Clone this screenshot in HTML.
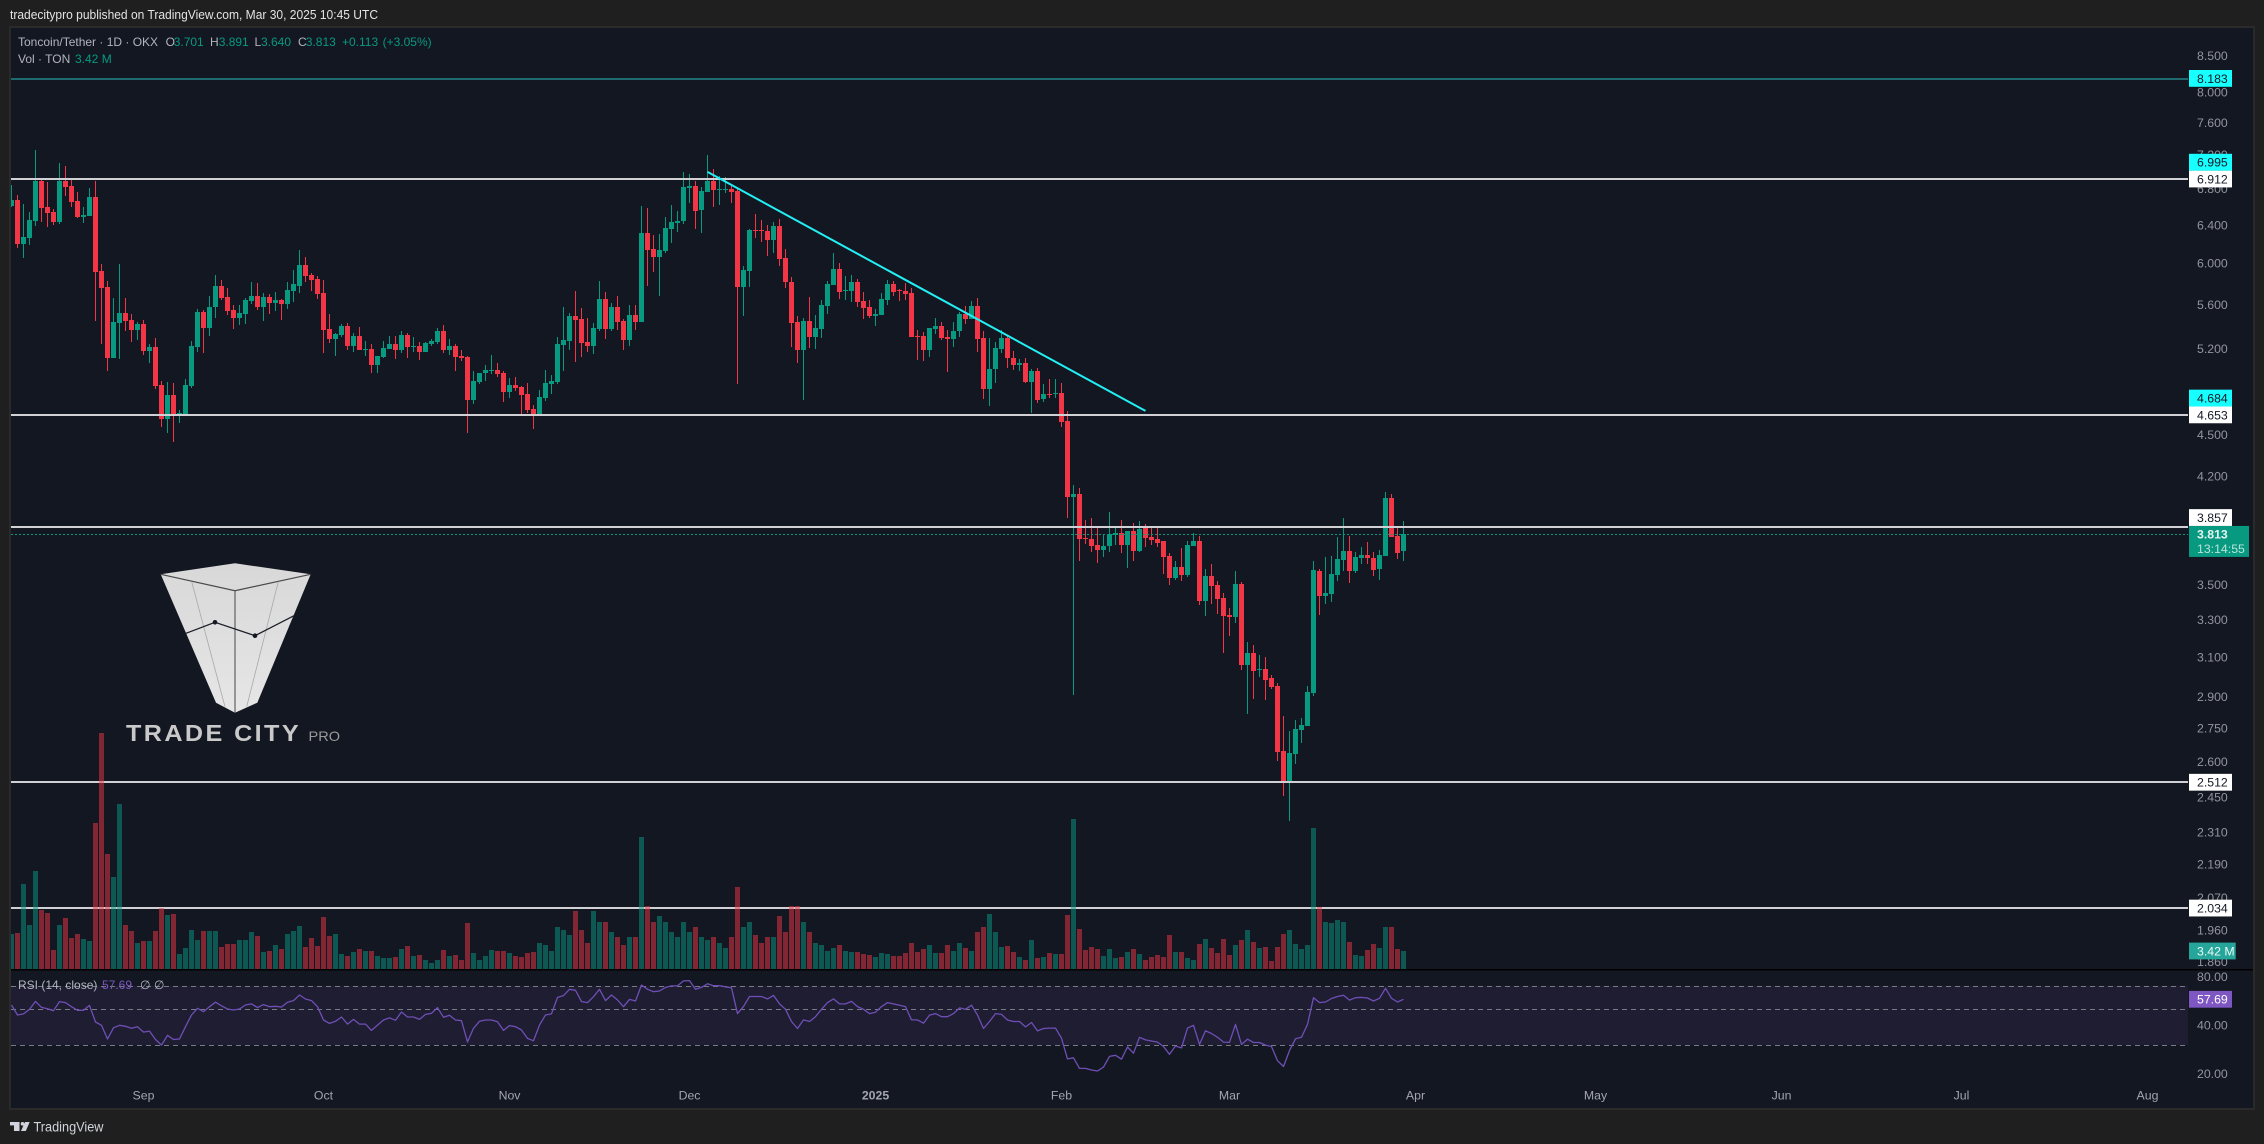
<!DOCTYPE html>
<html lang="en">
<head>
<meta charset="utf-8">
<title>Toncoin/Tether 1D chart</title>
<style>
html,body{margin:0;padding:0;background:#1f1f1f;width:2264px;height:1144px;overflow:hidden}
svg{display:block}
text{font-family:"Liberation Sans",sans-serif}
</style>
</head>
<body>
<svg id="root" xmlns="http://www.w3.org/2000/svg" width="2264" height="1144" viewBox="0 0 2264 1144">
  <defs>
    <clipPath id="paneClip"><rect x="11" y="28" width="2177" height="1080"/></clipPath>
    <linearGradient id="logoFill" x1="0" y1="0" x2="0" y2="1">
      <stop offset="0" stop-color="#d8d8d8"/><stop offset="1" stop-color="#e6e6e6"/>
    </linearGradient>
  </defs>
  <rect x="0" y="0" width="2264" height="1144" fill="#1f1f1f"/>
  <rect x="9" y="26" width="2246" height="1084" fill="#2a2a2a"/>
  <rect x="11" y="28" width="2242" height="1080" fill="#131722"/>

  <text x="10" y="19" font-size="12.5" fill="#e3e3e3" textLength="368" lengthAdjust="spacingAndGlyphs">tradecitypro published on TradingView.com, Mar 30, 2025 10:45 UTC</text>

  <g>
    <polygon points="160.7,574.3 235,563.3 310.7,574.3 257.3,702.7 235,712.7 216,702.7" fill="url(#logoFill)"/>
    <polyline points="160.7,574.3 235,590.7 310.7,574.3" fill="none" stroke="#4a4a4e" stroke-width="1.2"/>
    <line x1="235" y1="590.7" x2="235" y2="712.7" stroke="#55555a" stroke-width="1.1"/>
    <line x1="191.7" y1="581.7" x2="225" y2="706.7" stroke="#a8a8a8" stroke-width="0.8"/>
    <line x1="278.3" y1="581.7" x2="246.7" y2="706.7" stroke="#a8a8a8" stroke-width="0.8"/>
    <polyline points="186,633.3 215,622.3 255,635.7 294,615.7" fill="none" stroke="#1c2028" stroke-width="1.3"/>
    <circle cx="215" cy="622.3" r="2.3" fill="#131722"/>
    <circle cx="255" cy="635.7" r="2.3" fill="#131722"/>
    <text x="126" y="741" font-size="23" font-weight="bold" letter-spacing="2.2" fill="#c9c9c9" textLength="175" lengthAdjust="spacingAndGlyphs">TRADE CITY</text>
    <text x="308.5" y="741" font-size="14" fill="#9a9a9a" textLength="31.5" lengthAdjust="spacingAndGlyphs">PRO</text>
  </g>

  <g id="rsiPane"></g>
  <g id="candles" clip-path="url(#paneClip)"></g>
  <g id="levels" clip-path="url(#paneClip)"></g>
  <g id="volume" clip-path="url(#paneClip)"></g>
  <rect x="11" y="969" width="2242" height="1.5" fill="#000000"/>
  <g id="priceAxis"></g>
  <g id="timeAxis"></g>
  <g id="labels"></g>

  <g font-size="12">
    <text x="18" y="46" fill="#b2b5be">Toncoin/Tether · 1D · OKX</text>
    <text x="165.6" y="46" fill="#b2b5be">O</text>
    <text x="173.7" y="46" fill="#089981">3.701</text>
    <text x="210" y="46" fill="#b2b5be">H</text>
    <text x="218.7" y="46" fill="#089981">3.891</text>
    <text x="254.5" y="46" fill="#b2b5be">L</text>
    <text x="261" y="46" fill="#089981">3.640</text>
    <text x="298" y="46" fill="#b2b5be">C</text>
    <text x="305.8" y="46" fill="#089981">3.813</text>
    <text x="342" y="46" fill="#089981">+0.113</text>
    <text x="382.6" y="46" fill="#089981">(+3.05%)</text>
    <text x="18" y="63" fill="#b2b5be">Vol · TON</text>
    <text x="75" y="63" fill="#089981">3.42 M</text>
    <text x="18" y="989" fill="#b2b5be">RSI (14, close)</text>
    <text x="102" y="989" fill="#7e57c2">57.69</text>
    <text x="140" y="989" fill="#b2b5be">∅</text>
    <text x="154" y="989" fill="#b2b5be">∅</text>
  </g>

  <g fill="#d1d4dc">
    <rect x="10" y="1122" width="9.5" height="3.4"/>
    <rect x="14" y="1122" width="5.5" height="9"/>
    <circle cx="22.5" cy="1123.8" r="1.8"/>
    <polygon points="25,1122 29.7,1122 25.8,1131 21,1131"/>
    <text x="33.5" y="1131.5" font-size="13.5" textLength="70" lengthAdjust="spacingAndGlyphs">TradingView</text>
  </g>
</svg>

<script>
const opens = [
6.606,6.673,6.201,6.264,6.445,6.888,6.595,6.540,6.430,6.888,
6.831,6.662,6.485,6.496,6.707,5.923,5.766,5.119,5.429,5.520,
5.456,5.365,5.420,5.179,5.214,4.892,4.621,4.810,4.645,4.660,
4.884,5.214,5.529,5.383,5.576,5.776,5.670,5.548,5.474,5.511,
5.633,5.680,5.576,5.670,5.614,5.642,5.604,5.728,5.776,5.984,
5.884,5.845,5.708,5.374,5.285,5.320,5.401,5.223,5.311,5.188,
5.197,5.059,5.127,5.197,5.241,5.188,5.320,5.214,5.223,5.170,
5.241,5.258,5.356,5.188,5.223,5.136,5.127,4.770,4.917,4.992,
5.008,5.017,4.992,4.835,4.892,4.875,4.818,4.699,4.660,4.786,
4.900,4.917,5.232,5.267,5.492,5.465,5.258,5.223,5.374,5.652,
5.374,5.576,5.447,5.276,5.502,5.438,6.314,6.146,6.064,6.126,
6.355,6.419,6.441,6.809,6.831,6.562,6.763,6.888,6.786,6.786,
6.797,6.774,5.766,5.923,6.345,6.345,6.335,6.240,6.388,6.054,
5.815,5.438,5.188,5.447,5.302,5.374,5.585,5.786,5.943,5.728,
5.728,5.815,5.633,5.576,5.492,5.502,5.642,5.795,5.737,5.728,
5.708,5.311,5.311,5.188,5.374,5.401,5.302,5.285,5.356,5.511,
5.465,5.585,5.293,4.859,5.025,5.197,5.293,5.119,5.059,5.076,
4.917,5.008,4.778,4.818,4.818,4.826,4.606,4.054,4.075,3.785,
3.778,3.740,3.709,3.734,3.804,3.816,3.740,3.830,3.703,3.849,
3.791,3.778,3.766,3.671,3.539,3.605,3.557,3.734,3.766,3.405,
3.551,3.498,3.422,3.326,3.315,3.503,3.058,3.120,3.033,3.038,
2.992,2.952,2.647,2.517,2.634,2.742,2.760,2.917,3.581,3.434,
3.445,3.557,3.647,3.703,3.581,3.659,3.678,3.659,3.593,3.671,
4.048,3.797,3.701];
const highs = [
6.843,6.729,6.628,6.540,7.257,6.912,6.877,6.573,7.104,7.064,
6.923,6.763,6.595,6.809,6.888,5.994,5.825,5.661,5.994,5.661,
5.511,5.438,5.456,5.241,5.293,4.925,4.917,4.908,4.691,4.941,
5.267,5.557,5.548,5.680,5.884,5.835,5.756,5.595,5.595,5.661,
5.815,5.805,5.708,5.699,5.718,5.652,5.815,5.933,6.136,6.064,
5.904,5.874,5.835,5.511,5.338,5.420,5.429,5.338,5.392,5.267,
5.241,5.136,5.267,5.311,5.311,5.356,5.338,5.302,5.258,5.258,
5.285,5.383,5.410,5.285,5.241,5.188,5.136,5.008,4.992,5.059,
5.145,5.076,5.008,4.950,4.958,4.884,4.908,4.730,4.851,5.017,
4.975,5.302,5.576,5.520,5.728,5.567,5.474,5.429,5.825,5.718,
5.614,5.680,5.465,5.595,5.595,6.606,6.584,6.293,6.303,6.485,
6.617,6.551,6.993,6.970,6.888,6.820,7.196,7.029,6.947,6.935,
6.843,6.809,5.973,6.355,6.518,6.452,6.398,6.430,6.463,6.146,
5.864,5.492,5.474,5.670,5.502,5.642,5.825,6.105,6.004,5.874,
5.884,5.845,5.718,5.642,5.557,5.708,5.835,5.825,5.747,5.805,
5.756,5.365,5.347,5.383,5.474,5.438,5.365,5.438,5.529,5.585,
5.633,5.661,5.356,5.293,5.258,5.365,5.311,5.179,5.110,5.119,
5.025,5.034,4.900,4.941,4.941,4.908,4.683,4.136,4.116,3.900,
3.913,3.862,3.810,3.954,3.855,3.900,3.830,3.881,3.894,3.875,
3.849,3.855,3.766,3.691,3.641,3.722,3.766,3.816,3.797,3.593,
3.623,3.521,3.451,3.365,3.581,3.515,3.178,3.162,3.110,3.100,
3.008,2.967,2.807,2.737,2.788,2.798,2.952,3.641,3.593,3.665,
3.671,3.791,3.913,3.797,3.697,3.728,3.759,3.697,3.709,4.089,
4.075,3.855,3.891];
const lows = [
6.595,6.160,6.057,6.191,6.388,6.430,6.380,6.398,6.409,6.718,
6.595,6.474,6.419,6.496,5.447,5.241,5.008,5.119,5.110,5.356,
5.258,5.276,5.145,5.076,4.859,4.559,4.513,4.446,4.590,4.645,
4.867,5.170,5.162,5.311,5.474,5.642,5.502,5.374,5.410,5.420,
5.604,5.548,5.447,5.511,5.539,5.456,5.557,5.623,5.708,5.815,
5.728,5.652,5.162,5.249,5.136,5.302,5.188,5.170,5.188,5.136,
4.992,4.992,5.119,5.197,5.110,5.162,5.119,5.170,5.102,5.170,
5.223,5.241,5.162,5.145,5.008,5.093,4.513,4.738,4.900,4.925,
4.984,4.958,4.754,4.786,4.843,4.660,4.668,4.544,4.645,4.762,
4.818,4.900,5.008,5.188,5.085,5.127,5.170,5.153,5.356,5.285,
5.356,5.365,5.188,5.223,5.365,5.438,5.776,5.914,5.680,6.105,
6.209,6.324,6.409,6.640,6.355,6.314,6.763,6.595,6.617,6.752,
6.640,4.900,5.492,5.766,6.261,6.219,6.074,6.105,5.973,5.756,
5.214,5.076,4.770,5.205,5.197,5.293,5.511,5.786,5.652,5.642,
5.623,5.576,5.465,5.474,5.401,5.502,5.595,5.680,5.633,5.642,
5.302,5.102,5.093,5.127,5.329,5.276,5.000,5.214,5.302,5.420,
5.465,5.170,4.778,4.722,4.908,5.162,5.034,5.017,5.008,4.908,
4.668,4.746,4.754,4.786,4.786,4.559,3.913,2.908,3.641,3.747,
3.697,3.629,3.665,3.697,3.740,3.691,3.599,3.641,3.697,3.728,
3.740,3.728,3.563,3.498,3.527,3.521,3.545,3.734,3.382,3.320,
3.388,3.331,3.120,3.210,3.282,3.033,2.817,2.889,2.997,2.884,
2.937,2.603,2.454,2.355,2.590,2.683,2.760,2.903,3.326,3.388,
3.399,3.521,3.581,3.510,3.569,3.623,3.623,3.551,3.527,3.671,
3.791,3.653,3.640];
const closes = [
6.673,6.201,6.271,6.452,6.888,6.587,6.532,6.430,6.888,6.820,
6.651,6.485,6.507,6.707,5.914,5.756,5.119,5.438,5.520,5.447,
5.365,5.420,5.179,5.214,4.884,4.621,4.810,4.645,4.668,4.892,
5.223,5.529,5.383,5.576,5.776,5.661,5.539,5.474,5.520,5.642,
5.680,5.576,5.670,5.614,5.642,5.604,5.737,5.795,5.984,5.874,
5.835,5.699,5.365,5.285,5.329,5.401,5.223,5.311,5.188,5.197,
5.059,5.136,5.205,5.241,5.188,5.320,5.214,5.223,5.170,5.249,
5.267,5.356,5.188,5.223,5.127,5.119,4.770,4.925,4.992,5.017,
5.017,4.984,4.835,4.892,4.867,4.810,4.691,4.660,4.794,4.908,
4.925,5.241,5.276,5.492,5.456,5.249,5.223,5.383,5.652,5.374,
5.576,5.438,5.276,5.502,5.438,6.314,6.136,6.064,6.136,6.366,
6.430,6.441,6.820,6.831,6.551,6.774,6.888,6.786,6.797,6.797,
6.763,5.766,5.933,6.345,6.335,6.335,6.240,6.388,6.044,5.815,
5.429,5.188,5.447,5.302,5.383,5.595,5.795,5.943,5.718,5.737,
5.815,5.623,5.567,5.492,5.511,5.652,5.795,5.718,5.728,5.699,
5.302,5.302,5.188,5.383,5.401,5.293,5.285,5.356,5.511,5.465,
5.585,5.285,4.859,5.025,5.205,5.293,5.119,5.059,5.076,4.917,
5.008,4.770,4.818,4.810,4.826,4.598,4.054,4.075,3.778,3.778,
3.734,3.709,3.734,3.810,3.816,3.740,3.830,3.703,3.842,3.785,
3.772,3.753,3.665,3.539,3.605,3.557,3.740,3.766,3.405,3.551,
3.491,3.416,3.320,3.315,3.503,3.058,3.120,3.028,3.038,2.982,
2.947,2.643,2.517,2.639,2.746,2.765,2.922,3.587,3.434,3.451,
3.563,3.653,3.703,3.581,3.665,3.678,3.659,3.587,3.678,4.048,
3.791,3.691,3.813];
const volumesMillions = [
6.65,6.84,16.1,8.36,18.6,11.2,10.6,3.6,8.36,9.69,
5.89,6.65,5.7,5.32,27.7,44.8,21.8,17.5,31.4,8.36,
7.22,4.94,5.32,5.32,7.22,11.6,10.3,10.4,2.85,3.99,
7.41,5.51,7.22,7.22,7.22,4.18,4.75,4.75,5.51,5.51,
7.03,6.27,3.23,3.42,4.56,3.8,6.65,7.22,8.17,4.18,
5.89,4.37,9.88,6.27,6.65,2.85,2.47,3.23,3.8,3.42,
3.42,2.47,2.09,2.09,2.28,3.8,4.37,2.47,2.66,1.71,
1.14,1.71,3.61,2.47,2.66,1.71,8.74,3.04,1.71,2.47,
3.61,3.42,3.4,3,2.5,2.3,3,3.2,5,4.5,
3.5,8,7.5,6.5,11,7.5,5,11,9,9,
7,6,4.5,6,6,25,12,9,10,9,
7,6,9,7,8,6,5.5,6,5,4,
6,15.5,8,9,6.5,5,6,6,10,7,
12,12,9,7,5,4.5,3.5,4,4.5,3.5,
3.2,3.2,2.8,2.6,2.3,3,2.9,2.5,2.5,3,
5,3.2,3.8,4.5,3,3,4.5,3.5,5,4,
3.5,7,8,10.5,7,4.18,4.37,3.23,2.28,1.71,
5.51,2.09,2.28,3.04,2.85,2.85,10.25,28.5,7.6,3.61,
4.18,3.8,2.47,3.8,2.09,2.28,3.23,3.8,2.85,1.71,
2.28,2.66,2.28,6.46,3.23,3.23,2.09,1.71,4.75,5.7,
3.99,3.04,5.7,2.66,4.56,5.51,7.41,5.13,3.99,4.18,
1.52,4.18,6.65,7.41,4.75,3.8,4.56,26.8,11.8,8.93,
8.74,9.31,8.93,5.13,2.66,2.47,3.61,4.75,3.99,7.98,
7.98,3.8,3.42];
const rsiValues = [
53.2,46.1,46.8,50.0,56.0,51.4,50.4,49.0,55.8,55.0,
51.9,49.3,49.3,52.9,41.7,39.8,32.7,38.4,39.8,39.2,
38.1,39.0,36.1,36.6,32.5,30.0,34.5,32.5,32.7,39.0,
46.1,50.7,48.3,51.9,55.3,52.6,50.2,49.5,50.2,53.2,
54.0,51.2,53.5,51.9,52.2,51.7,55.3,56.6,61.3,57.9,
56.6,51.9,42.9,40.9,42.1,44.8,40.5,43.3,40.5,40.5,
37.0,39.9,42.9,44.3,42.7,48.1,44.8,44.8,43.3,46.5,
47.2,51.2,44.6,45.9,42.9,42.5,31.4,38.1,42.1,42.9,
42.9,41.9,37.0,39.6,39.0,37.2,33.0,31.9,39.9,46.1,
46.8,59.3,60.8,66.5,65.6,55.8,55.0,59.9,66.5,56.6,
61.3,57.1,51.9,57.6,56.3,70.8,66.5,64.3,64.9,68.4,
69.8,69.8,75,75.3,66.5,68.4,72,70,70,69,
68,47,52,60,60,60,58,61,54,50,
42,38,43,42,45,50,55,58,54,54,
56,52,50,47,48,52,55,54,53,52,
43,43,41,46,47,45,45,47,51,50,
53,46,38,42,47,46.5,42.9,42,42,38.9,
41.4,36.7,38,38.2,38.2,33.1,24.6,25,21.5,21.5,
21,20.7,21.9,25.5,25.9,24.5,29.2,26.7,33.5,32.3,
31.8,31.3,29.4,26.3,29.6,28.8,38.2,39.8,30.3,36.8,
35.4,33.5,31.3,31.2,40.3,30.3,32.6,31.1,31.1,30,
29.4,24,22.1,27.7,32.8,33.5,40.3,59,55,55.5,
58.3,60,61.1,57,59,59.3,58.8,56.3,58.5,67.5,
58.5,55.5,57.69];
const priceTickLabels = ["8.500","8.000","7.600","7.200","6.800","6.400","6.000","5.600","5.200","4.500","4.200","3.500","3.300","3.100","2.900","2.750","2.600","2.450","2.310","2.190","2.070","1.960","1.860"];
const rsiTickLabels = ["80.00","40.00","20.00"];
const rsiBandLevels = [70, 50, 30];
const timeLabels = ["Sep","Oct","Nov","Dec","2025","Feb","Mar","Apr","May","Jun","Jul","Aug"];
const timeLabelBars = [22,52,83,113,144,175,203,234,264,295,325,356];
const whiteLevels = [6.912, 4.653, 3.857, 2.512, 2.034];
const cyanLevel = 8.183;
const lastPrice = 3.813;
const countdownLabel = "13:14:55";
const trendBars = [116, 189];
const trendPrices = [6.995, 4.684];
const cyanLabels = [8.183, 6.995, 4.684];
const lastVolumeLabel = "3.42 M";
const lastRsiLabel = "57.69";

const NS = "http://www.w3.org/2000/svg";
const xBar = i => 11.5 + 6 * i;
const yPrice = p => 179 + 596 * Math.log(6.912 / p);
const yVolume = v => 969 - v * 18 / 3.42;
const yRsi = r => 1009.3 + 70 * Math.log(50 / r);
const UP = "#089981", DOWN = "#f23645";

function mk(tag, parent, attrs, txt) {
  const el = document.createElementNS(NS, tag);
  for (const k in attrs) el.setAttribute(k, attrs[k]);
  if (txt !== undefined) el.textContent = txt;
  parent.appendChild(el);
  return el;
}

const candlesG = document.getElementById("candles");
opens.forEach((o, i) => {
  const c = closes[i], up = c >= o, col = up ? UP : DOWN;
  const g = mk("g", candlesG, {});
  
  
  const hy = Math.round(yPrice(highs[i])), ly = Math.round(yPrice(lows[i]));
  const wick = mk("rect", g, {x: xBar(i) - 0.5, y: hy, width: 1, height: Math.max(1, ly - hy), fill: col, "shape-rendering": "crispEdges"});
  
  
  const top = Math.round(yPrice(Math.max(o, c))), bot = Math.round(yPrice(Math.min(o, c)));
  const body = mk("rect", g, {x: xBar(i) - 2.5, y: top, width: 5, height: Math.max(1, bot - top), fill: col, "shape-rendering": "crispEdges"});
  
  
});

const levelsG = document.getElementById("levels");
whiteLevels.forEach(p => {
  const line = mk("rect", levelsG, {x: 11, y: Math.round(yPrice(p)) - 1, width: 2177, height: 2, fill: "#d1d1d5", "shape-rendering": "crispEdges"});
  
  
});
const cyanLine = mk("rect", levelsG, {x: 11, y: Math.round(yPrice(cyanLevel)) + 0.5, width: 2177, height: 1, fill: "#2bbcc0", "shape-rendering": "crispEdges"});


const lastLine = mk("line", levelsG, {x1: 11, x2: 2188, y1: Math.round(yPrice(lastPrice)) + 0.5, y2: Math.round(yPrice(lastPrice)) + 0.5, stroke: UP, "stroke-width": 1, "stroke-dasharray": "2 2", "shape-rendering": "crispEdges"});


const trend = mk("line", levelsG, {x1: xBar(trendBars[0]), y1: yPrice(trendPrices[0]), x2: xBar(trendBars[1]), y2: yPrice(trendPrices[1]), stroke: "#22f0f4", "stroke-width": 2});



const volumeG = document.getElementById("volume");
volumesMillions.forEach((v, i) => {
  const up = closes[i] >= opens[i];
  const top = Math.round(yVolume(v));
  const bar = mk("rect", volumeG, {x: xBar(i) - 2.5, y: top, width: 5, height: 969 - top, fill: up ? UP : DOWN, "fill-opacity": 0.5, "shape-rendering": "crispEdges"});
  
  
});

const rsiG = document.getElementById("rsiPane");
const band = mk("rect", rsiG, {x: 11, y: yRsi(rsiBandLevels[0]), width: 2177, height: yRsi(rsiBandLevels[2]) - yRsi(rsiBandLevels[0]), fill: "#7e57c2", "fill-opacity": 0.1});


rsiBandLevels.forEach(r => {
  const l = mk("line", rsiG, {x1: 11, x2: 2188, y1: Math.round(yRsi(r)) + 0.5, y2: Math.round(yRsi(r)) + 0.5, stroke: "#787b86", "stroke-width": 1, "stroke-dasharray": "5 4"});
  
  
});
const rsiLine = mk("polyline", rsiG, {points: rsiValues.map((r, i) => xBar(i) + "," + yRsi(r).toFixed(1)).join(" "), fill: "none", stroke: "#6f4fb5", "stroke-width": 1.3, "stroke-linejoin": "round"});



const axisG = document.getElementById("priceAxis");
priceTickLabels.forEach(t => {
  const tick = mk("text", axisG, {x: 2197, y: yPrice(parseFloat(t)) + 4.4, "font-size": 12.3, fill: "#92959e"}, t);
  
  
});
rsiTickLabels.forEach(t => {
  const tick = mk("text", axisG, {x: 2197, y: yRsi(parseFloat(t)) + 4.4, "font-size": 12.3, fill: "#92959e"}, t);
  
  
});

const timeG = document.getElementById("timeAxis");
timeLabels.forEach((t, i) => {
  const tick = mk("text", timeG, {x: xBar(timeLabelBars[i]), y: 1099.5, "font-size": 12.3, fill: "#a3a6af", "text-anchor": "middle", "font-weight": t === "2025" ? "bold" : "normal"}, t);
  
  
});

const labelsG = document.getElementById("labels");
const BOX_H = 16.8;
const lastTop = yPrice(lastPrice) - 7.6;
const lastBox = mk("rect", labelsG, {x: 2189, y: lastTop, width: 60, height: 31, fill: UP});


const lastText = mk("text", labelsG, {x: 2197, y: lastTop + 12.6, "font-size": 12.3, "font-weight": "bold", fill: "#e4f4f0"}, lastPrice.toFixed(3));


const countText = mk("text", labelsG, {x: 2197, y: lastTop + 27, "font-size": 12.3, fill: "#b9e3da"}, countdownLabel);



const tagged = whiteLevels.map(p => ({p: p, cyan: false})).concat(cyanLabels.map(p => ({p: p, cyan: true})));
tagged.sort((a, b) => yPrice(b.p) - yPrice(a.p));
let prevTop = lastTop + 1000;
tagged.forEach(t => {
  const y = yPrice(t.p);
  let top = y - BOX_H / 2;
  const limit = (y < lastTop + 4 && y > lastTop - 30) ? lastTop : prevTop;
  if (top + BOX_H > limit) top = limit - BOX_H;
  prevTop = top;
  const box = mk("rect", labelsG, {x: 2189, y: top, width: 43, height: BOX_H, fill: t.cyan ? "#18ffff" : "#ffffff"});
  
  
  const text = mk("text", labelsG, {x: 2197, y: top + 12.8, "font-size": 12.3, fill: "#131722"}, t.p.toFixed(3));
  
  
});

const volTop = yVolume(volumesMillions[volumesMillions.length - 1]) - 8.4;
const volBox = mk("rect", labelsG, {x: 2189, y: volTop, width: 46.7, height: BOX_H, fill: "#26a69a"});


const volText = mk("text", labelsG, {x: 2197, y: volTop + 12.8, "font-size": 12.3, fill: "#eafaf7"}, lastVolumeLabel);



const rsiTop = yRsi(rsiValues[rsiValues.length - 1]) - 8.4;
const rsiBox = mk("rect", labelsG, {x: 2189, y: rsiTop, width: 43, height: BOX_H, fill: "#7e57c2"});


const rsiText = mk("text", labelsG, {x: 2197, y: rsiTop + 12.8, "font-size": 12.3, fill: "#ffffff"}, lastRsiLabel);


</script>
</body>
</html>
